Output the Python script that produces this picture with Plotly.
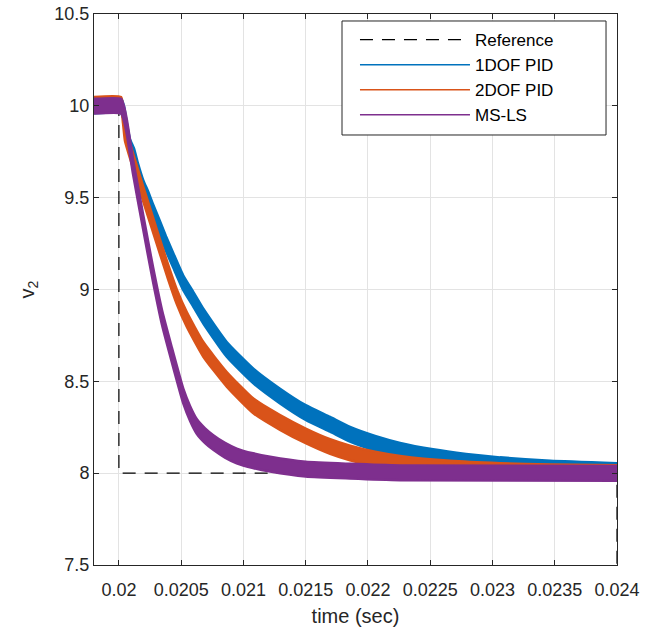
import plotly.graph_objects as go

# ---------------- data ----------------
t_ref = [0.0198, 0.0200, 0.0200, 0.0240, 0.0240]
v_ref = [10.0, 10.0, 8.0, 8.0, 6.0]

t_1dof = [0.01980, 0.020017, 0.020041, 0.020065, 0.020089, 0.020121, 0.020153,
          0.020196, 0.020234, 0.020274, 0.020330, 0.020378, 0.020437, 0.020517,
          0.020598, 0.020678, 0.020866, 0.021080, 0.021294, 0.021500, 0.021696,
          0.021856, 0.022057, 0.022258, 0.022523, 0.022788, 0.023061, 0.023463,
          0.024000]
v_1dof = [10.000, 10.000, 9.957, 9.859, 9.779, 9.728, 9.647,
          9.554, 9.495, 9.424, 9.332, 9.250, 9.158, 9.036,
          8.946, 8.855, 8.674, 8.529, 8.420, 8.330, 8.266,
          8.212, 8.163, 8.125, 8.090, 8.065, 8.046, 8.027,
          8.014]

t_2dof = [0.01980, 0.020017, 0.020033, 0.020049, 0.020089, 0.020196, 0.020304,
          0.020394, 0.020464, 0.020545, 0.020678, 0.020866, 0.021080, 0.021294,
          0.021500, 0.021696, 0.021856, 0.022057, 0.022258, 0.022660, 0.023061,
          0.023463, 0.024000]
v_2dof = [10.008, 10.008, 9.946, 9.848, 9.755, 9.519, 9.288,
          9.098, 8.962, 8.837, 8.674, 8.511, 8.366, 8.276,
          8.203, 8.145, 8.110, 8.077, 8.054, 8.027, 8.014,
          8.007, 8.003]

t_msls = [0.01980, 0.020017, 0.020041, 0.020065, 0.020113, 0.020194, 0.020274,
          0.020346, 0.020424, 0.020517, 0.020571, 0.020625, 0.020692, 0.020758,
          0.020852, 0.020946, 0.021077, 0.021214, 0.021500, 0.021856, 0.022258,
          0.024000]
v_msls = [9.998, 9.998, 9.957, 9.880, 9.670, 9.370, 9.082,
          8.848, 8.647, 8.420, 8.326, 8.255, 8.204, 8.167,
          8.125, 8.094, 8.068, 8.049, 8.022, 8.011, 8.002,
          7.999]

# half-height of the switching ripple band of each signal
ripple_1dof = 0.040
ripple_2dof = 0.040
ripple_msls = 0.040

series = [
    ("1DOF PID", t_1dof, v_1dof, ripple_1dof, "#0072BD"),
    ("2DOF PID", t_2dof, v_2dof, ripple_2dof, "#D95319"),
    ("MS-LS", t_msls, v_msls, ripple_msls, "#7E2F8E"),
]

x_tickvals = [0.02, 0.0205, 0.021, 0.0215, 0.022, 0.0225, 0.023, 0.0235, 0.024]
x_ticktext = ["0.02", "0.0205", "0.021", "0.0215", "0.022", "0.0225", "0.023", "0.0235", "0.024"]
y_tickvals = [7.5, 8, 8.5, 9, 9.5, 10, 10.5]
y_ticktext = ["7.5", "8", "8.5", "9", "9.5", "10", "10.5"]

FONT = "Liberation Sans, Arial, Helvetica, sans-serif"
INK = "#262626"

# ---------------- figure ----------------
fig = go.Figure()

fig.add_trace(go.Scatter(
    x=t_ref, y=v_ref, mode="lines", name="Reference",
    line=dict(color="#000000", width=1.2, dash="13px,9px"),
    showlegend=False,
))

for name, t, v, r, col in series:
    upper = [val + r for val in v]
    lower = [val - r for val in v]
    fig.add_trace(go.Scatter(
        x=t, y=upper, mode="lines", name=name, legendgroup=name,
        line=dict(color=col, width=2.5, shape="spline", smoothing=0.5),
        showlegend=False,
    ))
    fig.add_trace(go.Scatter(
        x=t, y=lower, mode="lines", name=name, legendgroup=name,
        line=dict(color=col, width=2.5, shape="spline", smoothing=0.5),
        fill="tonexty", fillcolor=col, showlegend=False,
    ))

# legend entries (thin sample lines, as in the reference)
fig.add_trace(go.Scatter(
    x=[None], y=[None], mode="lines", name="Reference",
    line=dict(color="#000000", width=1.2, dash="13px,9px"),
))
for name, t, v, r, col in series:
    fig.add_trace(go.Scatter(
        x=[None], y=[None], mode="lines", name=name, legendgroup=name,
        line=dict(color=col, width=1.5),
    ))

axis_common = dict(
    showline=True, linecolor=INK, linewidth=1, mirror="ticks",
    ticks="inside", ticklen=5, tickcolor=INK,
    showgrid=True, gridcolor="#e3e3e3", gridwidth=1,
    zeroline=False, automargin=False, ticklabeloverflow="allow",
    tickfont=dict(family=FONT, size=18, color=INK),
)

fig.update_xaxes(
    range=[0.0198, 0.024], tickvals=x_tickvals, ticktext=x_ticktext,
    ticklabelstandoff=8,
    title=dict(text="time (sec)", font=dict(family=FONT, size=20, color=INK), standoff=10),
    **axis_common,
)
fig.update_yaxes(
    range=[7.5, 10.5], tickvals=y_tickvals, ticktext=y_ticktext,
    title=dict(text="v<sub>2</sub>", font=dict(family=FONT, size=20, color=INK), standoff=14),
    **axis_common,
)

# legend frame (white box with dark edge), drawn as a shape above the data
fig.add_shape(
    type="rect", xref="paper", yref="paper",
    x0=0.4742, x1=0.979, y0=0.7804, y1=0.9873,
    line=dict(color=INK, width=1), fillcolor="#ffffff", layer="above",
)

fig.update_layout(
    width=654, height=635,
    margin=dict(l=94, r=37, t=14, b=70),
    plot_bgcolor="#ffffff", paper_bgcolor="#ffffff",
    legend=dict(
        x=0.499, xanchor="left", y=0.9855, yanchor="top",
        bgcolor="rgba(0,0,0,0)", borderwidth=0,
        font=dict(family=FONT, size=17, color="#000000"),
        itemwidth=110,
        tracegroupgap=0,
    ),
    showlegend=True,
)

# remove the browser's default 8 px page margin so the figure sits at the window's corner
fig.write_html(
    "out.html",
    config={"displayModeBar": False},
    post_script="document.body.style.margin='0';",
)
